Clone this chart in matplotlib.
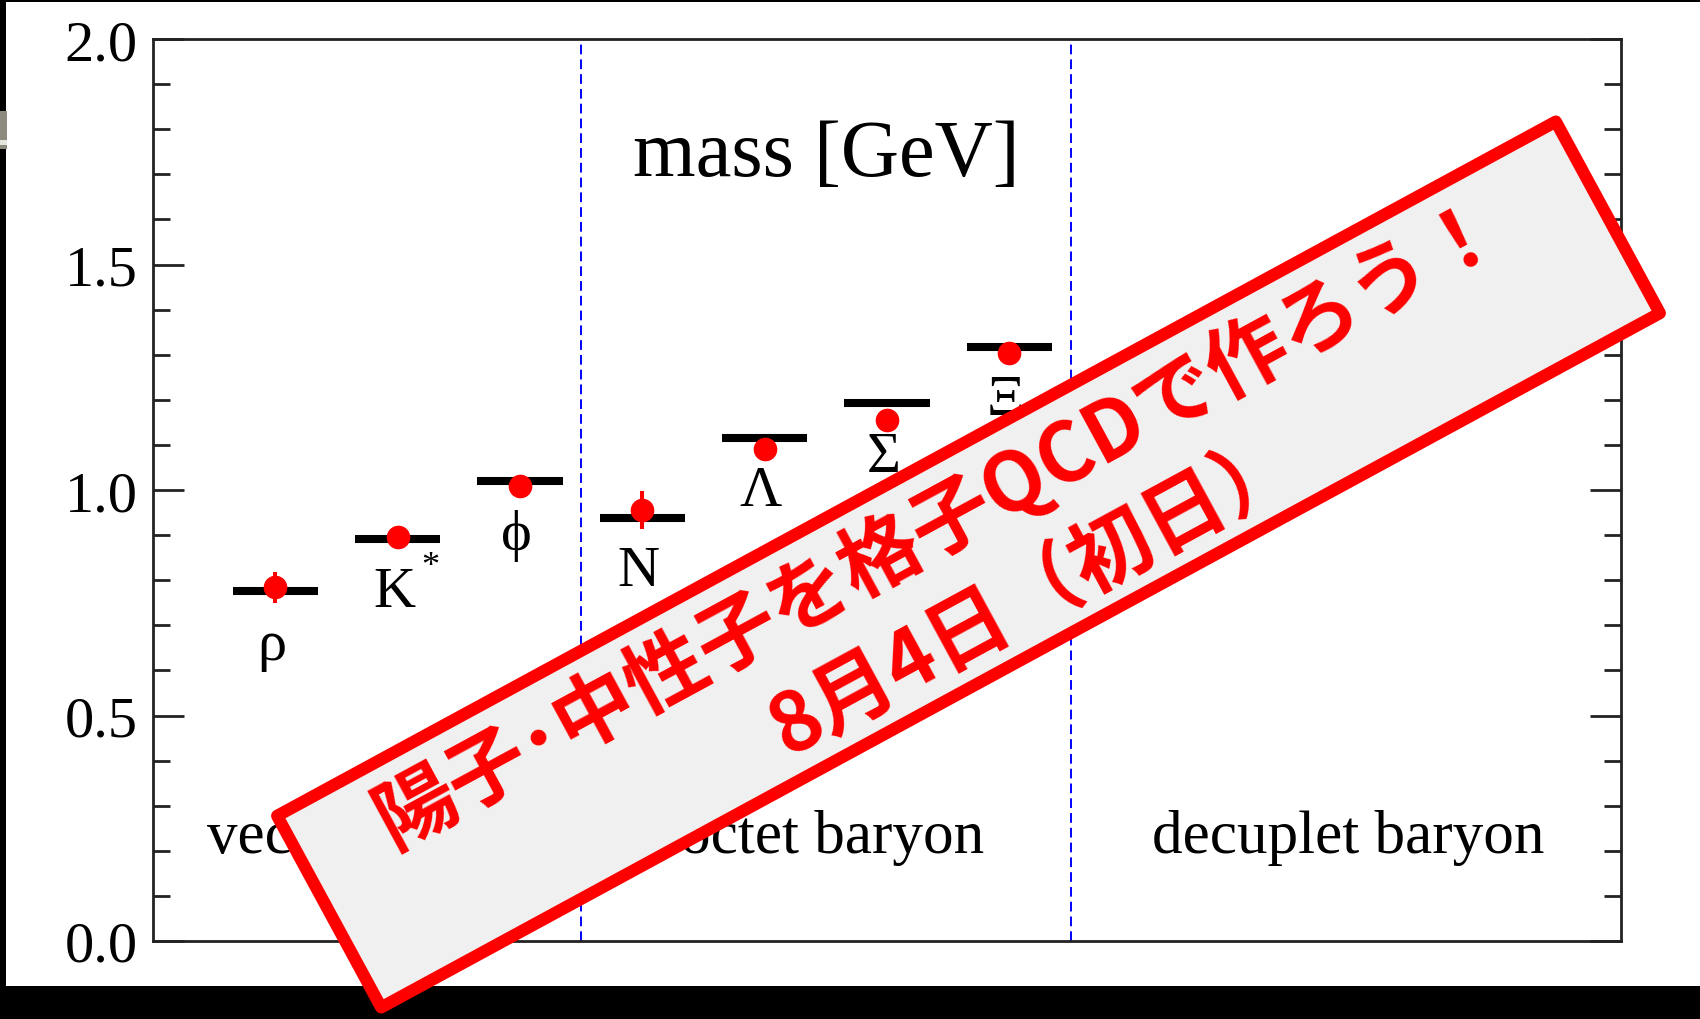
import math
import matplotlib
matplotlib.use("Agg")
import matplotlib.pyplot as plt
from matplotlib.patches import Rectangle

# Hadron spectrum: experiment (bars) vs lattice QCD (points), in GeV
hadrons = ["ρ", "K", "ϕ", "N", "Λ", "Σ", "Ξ"]
positions = [1, 2, 3, 4, 5, 6, 7]
exp_mass = [0.775, 0.892, 1.019, 0.939, 1.116, 1.193, 1.318]
lat_mass = [0.784, 0.896, 1.009, 0.956, 1.092, 1.156, 1.304]
lat_err = [0.034, 0.010, 0.008, 0.042, 0.008, 0.008, 0.008]

groups = ["vector meson", "octet baryon", "decuplet baryon"]
group_centers = [1.78, 5.55, 9.77]
group_edges = [3.5, 7.5]

yticks_major = [0.0, 0.5, 1.0, 1.5, 2.0]
ytick_labels = ["0.0", "0.5", "1.0", "1.5", "2.0"]

banner_line1 = "陽子･中性子を格子QCDで作ろう！"
banner_line2 = "8月4日（初日）"

SERIF = ["Liberation Serif", "DejaVu Serif"]
CJK = ["Noto Sans CJK JP", "DejaVu Sans"]

W, H = 1700, 1020
fig = plt.figure(figsize=(17, 10.2), dpi=100, facecolor="black")

# page background (white sheet on black frame)
bg = fig.add_axes([0, 0, 1, 1])
bg.set_xlim(0, W)
bg.set_ylim(0, H)
bg.axis("off")
bg.add_patch(Rectangle((6, H - 987), W - 6, 987 - 3, facecolor="white", edgecolor="none"))
bg.add_patch(Rectangle((0, H - 150), 7, 38, facecolor="#8c8b7e", edgecolor="none"))
bg.add_patch(Rectangle((0, H - 146), 7, 5, facecolor="#e6e6e0", edgecolor="none"))

ax = fig.add_axes([153 / W, 1 - 942 / H, (1621 - 153) / W, (942 - 40) / H])
ax.set_facecolor("white")
ax.set_xlim(0, 12)
ax.set_ylim(0, 2.0)

for s in ax.spines.values():
    s.set_linewidth(2.0)
    s.set_color("#222222")

ax.set_xticks([])
ax.set_yticks(yticks_major)
ax.set_yticklabels(ytick_labels)
ax.set_yticks([i / 10 for i in range(21)], minor=True)
ax.tick_params(axis="y", which="major", direction="in", length=22, width=2.0,
               left=True, right=True, pad=11, labelsize=42, color="#222222")
ax.tick_params(axis="y", which="minor", direction="in", length=12, width=2.0,
               left=True, right=True, color="#222222")
for lab in ax.get_yticklabels():
    lab.set_family(SERIF)

for xe in group_edges:
    ax.axvline(xe, color="#0000ff", lw=1.4, ls=(0, (5, 2.6)))

# experimental values
ax.hlines(exp_mass, [p - 0.35 for p in positions], [p + 0.35 for p in positions],
          colors="black", lw=5.8, capstyle="butt", zorder=3)

# lattice results
ax.errorbar(positions, lat_mass, yerr=lat_err, fmt="o", color="#ff0000", ms=16,
            elinewidth=2.9, capsize=0, mec="#ff0000", zorder=4)

for name, p, m in zip(hadrons, positions, exp_mass):
    ax.text(p - 0.03, m - 0.15, name, ha="center", va="baseline", fontsize=42,
            family=SERIF, color="black")
ax.text(2.27, 0.83, "*", ha="center", va="center", fontsize=26, family=SERIF, color="black")

for g, c in zip(groups, group_centers):
    ax.text(c, 0.197, g, ha="center", va="baseline", fontsize=44, family=SERIF)

ax.text(5.5, 1.698, "mass [GeV]", ha="center", va="baseline", fontsize=58, family=SERIF)

# banner overlay in pixel coordinates
ov = fig.add_axes([0, 0, 1, 1])
ov.set_xlim(0, W)
ov.set_ylim(0, H)
ov.axis("off")
ov.patch.set_alpha(0)

ang = 28.5
cx, cy = 968.5, H - 565.5
bw, bh = 1455, 218
ov.add_patch(Rectangle((cx - bw / 2, cy - bh / 2), bw, bh, angle=ang,
                       rotation_point="center", facecolor="#f0f0f0",
                       edgecolor="#ff0000", lw=8.8, joinstyle="round", zorder=5))

ux, uy = math.cos(math.radians(ang)), math.sin(math.radians(ang))
nx, ny = math.sin(math.radians(ang)), -math.cos(math.radians(ang))  # pointing down-right


def place(du, dn):
    return cx + du * ux + dn * nx, cy + du * uy + dn * ny


x1, y1 = place(-6, -50)
ov.text(x1, y1, banner_line1, rotation=ang, rotation_mode="anchor", ha="center",
        va="center", fontsize=58.5, fontweight="bold", color="#ff0000", family=CJK, zorder=6)
x2, y2 = place(44, 58)
t2 = ov.text(x2, y2, banner_line2, rotation=ang, rotation_mode="anchor", ha="center",
             va="center", fontsize=59, fontweight="bold", color="#ff0000", family=CJK, zorder=6)

fig.savefig("out.png", dpi=100, facecolor="black")
